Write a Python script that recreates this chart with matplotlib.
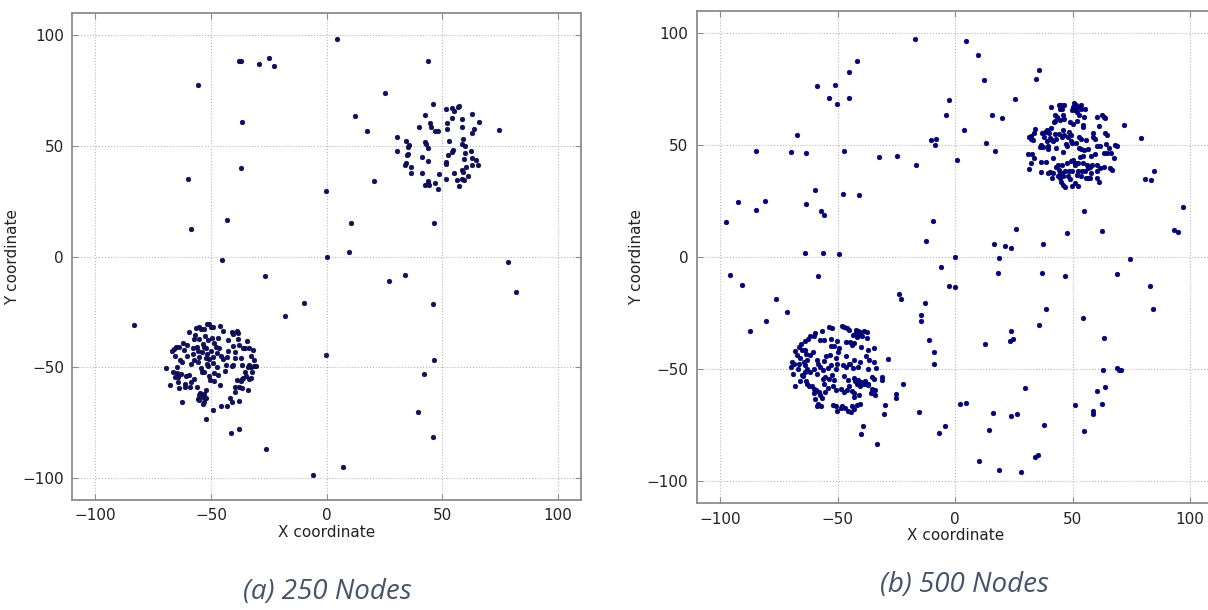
import numpy as np
import matplotlib
matplotlib.use("Agg")
import matplotlib.pyplot as plt

# ---- (a) 250 nodes : scattered nodes + two clusters (x, y) ----
a_scatter = [
    (4.3, 98.6), (-55.6, 77.8), (-38.1, 88.3), (-37.2, 88.3), (-29.2, 87.1), (-25.1, 89.8),
    (-22.7, 86.0), (-36.7, 61.0), (-37.2, 40.0), (-59.9, 35.0), (-0.2, 29.6), (-43.3, 16.5),
    (-58.9, 12.6), (0.0, 0.0), (-45.2, -1.5), (43.6, 88.3), (25.4, 73.9), (12.3, 63.7),
    (17.3, 56.8), (74.7, 57.1), (20.3, 34.2), (10.6, 15.0), (46.4, 15.2), (9.5, 2.0),
    (-26.7, -8.6), (-9.9, -20.9), (-18.2, -26.9), (-83.5, -31.1), (-0.1, -44.6), (-41.4, -79.7),
    (-37.9, -78.1), (-26.4, -86.9), (-5.8, -98.5), (-52.1, -73.6), (-49.0, -69.2), (-69.5, -50.5),
    (26.8, -11.0), (33.8, -8.1), (45.9, -21.6), (78.3, -2.6), (81.8, -16.2), (46.3, -46.7),
    (42.1, -53.2), (39.5, -70.1), (45.9, -81.4), (7.1, -95.3),
]
a_cluster_ne = [
    (45.9, 69.2), (51.8, 66.8), (54.4, 67.1), (55.0, 65.9), (56.6, 67.6), (57.1, 67.9),
    (42.7, 64.1), (62.9, 64.5), (54.4, 62.6), (58.3, 62.0), (65.8, 60.9), (44.7, 60.6),
    (51.9, 60.6), (39.8, 58.8), (45.3, 58.8), (58.6, 58.8), (52.2, 57.9), (63.5, 57.9),
    (46.9, 56.7), (48.3, 56.7), (62.9, 56.0), (30.6, 54.0), (59.1, 53.4), (34.3, 52.1),
    (52.8, 52.1), (42.6, 51.8), (35.8, 50.6), (35.1, 49.5), (43.0, 50.7), (43.6, 49.2),
    (58.3, 51.0), (59.9, 50.1), (54.8, 48.0), (54.2, 47.1), (30.3, 47.9), (62.2, 47.7),
    (35.3, 46.4), (34.8, 45.8), (52.4, 46.1), (59.6, 46.7), (41.3, 45.0), (62.8, 44.7),
    (64.6, 43.8), (44.0, 43.4), (59.4, 44.1), (51.6, 42.8), (51.4, 42.0), (34.2, 42.5),
    (33.8, 41.3), (36.3, 40.5), (60.3, 40.5), (62.8, 41.3), (65.5, 41.3), (58.6, 39.0),
    (59.1, 38.4), (41.4, 37.8), (36.5, 37.8), (48.5, 37.4), (55.1, 38.0), (61.3, 36.5),
    (51.8, 35.0), (58.6, 35.1), (59.4, 34.5), (56.4, 34.7), (44.0, 34.4), (43.6, 32.9),
    (42.7, 32.6), (44.4, 32.6), (46.9, 33.2), (48.0, 30.5), (57.0, 32.0),
]
a_cluster_sw = [
    (-51.8, -30.5), (-50.9, -30.6), (-49.9, -31.8), (-49.0, -32.0), (-46.3, -31.2), (-45.0, -33.6),
    (-56.5, -32.1), (-55.4, -32.0), (-54.4, -32.7), (-53.1, -32.7), (-59.4, -34.1), (-38.8, -33.6),
    (-40.8, -33.9), (-40.4, -34.8), (-38.2, -34.7),
    (-57.1, -35.4), (-57.4, -37.4), (-55.3, -37.2), (-52.8, -35.7), (-49.6, -36.6), (-51.2, -37.5),
    (-46.9, -36.9), (-42.7, -37.5), (-38.4, -37.2), (-34.6, -38.3), (-62.0, -39.0), (-60.6, -39.9),
    (-53.7, -39.5), (-48.8, -39.0), (-47.7, -40.8), (-40.4, -40.2), (-37.9, -39.8), (-35.2, -41.4),
    (-36.2, -41.1),
    (-65.2, -40.8), (-66.1, -41.8), (-66.9, -42.8), (-63.8, -41.0), (-58.0, -41.4), (-56.3, -40.8),
    (-55.5, -42.5), (-53.1, -40.8), (-52.1, -41.3), (-50.1, -42.5), (-46.6, -41.4), (-42.7, -42.5),
    (-39.5, -43.2), (-32.0, -42.2), (-33.6, -41.4), (-61.6, -42.2), (-54.1, -43.2),
    (-65.6, -44.8), (-60.5, -44.8), (-57.7, -43.9), (-55.1, -45.2), (-51.9, -44.0), (-50.8, -46.3),
    (-49.0, -45.4), (-45.9, -44.8), (-45.0, -46.3), (-43.3, -45.4), (-39.7, -45.8), (-37.2, -46.0),
    (-32.9, -45.1), (-31.4, -46.6), (-63.5, -46.6), (-57.3, -46.6), (-52.4, -46.0), (-47.6, -43.6),
    (-62.5, -47.6), (-55.5, -47.8), (-49.0, -48.1), (-43.7, -49.1), (-40.5, -48.8), (-36.6, -48.8),
    (-33.5, -48.8), (-32.9, -49.9), (-31.4, -49.6), (-30.6, -49.4), (-64.6, -49.9), (-54.2, -50.3),
    (-51.3, -49.6), (-47.5, -50.0), (-33.9, -49.7), (-58.6, -48.7), (-40.8, -49.6), (-51.9, -48.5),
    (-66.5, -52.0), (-64.9, -52.6), (-62.8, -53.0), (-54.1, -52.0), (-53.1, -52.3), (-48.6, -52.6),
    (-43.9, -51.8), (-35.3, -52.1), (-32.4, -52.3), (-35.1, -54.1), (-64.5, -54.5), (-61.0, -53.8),
    (-59.6, -53.5), (-57.4, -55.4), (-50.8, -54.1), (-47.2, -53.5), (-36.2, -54.7), (-65.5, -54.5),
    (-67.8, -58.0), (-64.2, -56.8), (-61.2, -57.4), (-58.7, -56.8), (-50.4, -55.9), (-48.8, -56.0),
    (-46.3, -57.8), (-38.9, -55.6), (-36.8, -55.1), (-37.1, -56.2), (-33.5, -55.1), (-32.9, -54.8),
    (-63.9, -59.3), (-61.2, -59.0), (-59.1, -59.0), (-56.3, -58.9), (-52.2, -60.4), (-39.5, -58.7),
    (-37.9, -59.0), (-36.6, -59.5), (-33.9, -60.1),
    (-54.7, -61.6), (-55.3, -62.5), (-55.8, -64.3), (-55.1, -64.9), (-53.7, -63.5), (-53.1, -61.9),
    (-52.2, -64.1), (-53.1, -65.8), (-53.6, -66.4), (-62.4, -65.5), (-45.6, -67.3), (-43.3, -67.6),
    (-42.0, -63.7), (-41.1, -65.9), (-39.5, -61.3), (-37.8, -65.2),
]

# ---- (b) 500 nodes ----
b_scatter = [
    (-17.0, 97.6), (-41.7, 87.5), (-45.1, 82.8), (-58.9, 76.5), (-51.1, 77.0), (-53.5, 71.1),
    (-45.1, 71.1), (-50.1, 68.6), (-2.8, 70.1), (-4.1, 63.4), (-67.4, 54.5), (-84.6, 47.5),
    (-70.0, 47.0), (-63.6, 46.6), (-47.4, 47.5), (-32.2, 44.8), (-24.7, 45.3), (-16.7, 41.1),
    (-10.3, 52.3), (-8.3, 52.7), (-8.5, 50.0), (0.8, 43.5), (-92.6, 24.7), (-97.4, 15.6),
    (-84.6, 21.1), (-80.9, 25.3), (-59.7, 30.1), (-63.3, 23.8), (-57.0, 20.7), (-55.9, 18.9),
    (-47.8, 28.3), (-40.9, 28.0), (-63.9, 2.0), (-56.3, 1.7), (-49.5, 1.2), (-9.6, 16.1),
    (-12.3, 7.2), (0.1, 0.0),
    (4.5, 96.7), (9.6, 90.2), (12.2, 79.3), (35.5, 83.8), (34.6, 79.8), (25.4, 70.6),
    (15.6, 63.6), (20.0, 62.1), (3.8, 57.0), (13.3, 51.2), (16.9, 47.6), (72.0, 59.2),
    (79.2, 53.4), (84.8, 38.4), (80.8, 34.8), (83.3, 34.4), (54.8, 20.7), (97.1, 22.5),
    (25.8, 12.8), (47.4, 10.6), (62.6, 11.5), (93.3, 12.2), (95.0, 11.2), (16.4, 6.1),
    (21.4, 4.9), (23.8, 4.0), (37.2, 5.8), (18.7, -0.4), (74.3, -0.7),
    (-95.7, -7.9), (-90.9, -12.4), (-76.2, -18.5), (-71.5, -24.3), (-80.6, -28.4), (-87.3, -32.9),
    (-58.5, -8.3), (-5.9, -4.5), (-2.5, -12.7), (0.0, -13.3), (-23.8, -16.4), (-23.2, -18.8),
    (-12.7, -20.5), (-14.4, -25.8), (-14.4, -28.7), (-11.2, -37.2), (-9.2, -42.4), (-9.2, -47.9),
    (-28.4, -45.5), (-22.2, -56.6), (-25.1, -61.2), (-25.0, -63.1), (-29.8, -66.1), (-30.2, -70.3),
    (-15.6, -69.1), (2.0, -65.5), (-4.5, -75.5), (-7.0, -78.7), (-39.3, -75.3), (-39.9, -79.0),
    (-33.2, -83.6), (-31.2, -53.6), (-31.2, -54.8), (-34.3, -61.8),
    (18.1, -7.2), (36.9, -7.2), (46.8, -8.6), (68.9, -7.5), (83.1, -12.8), (84.2, -23.2),
    (38.5, -23.2), (54.5, -27.0), (35.5, -30.2), (23.7, -33.2), (23.5, -37.4), (24.8, -36.6),
    (12.6, -38.8), (63.5, -36.0), (62.9, -50.2), (68.9, -49.4), (69.7, -50.6), (70.7, -50.6),
    (29.9, -58.6), (63.7, -58.2), (60.2, -59.8), (4.5, -65.3), (51.2, -65.9), (62.3, -65.6),
    (16.2, -69.5), (23.8, -71.0), (26.2, -70.1), (58.8, -68.7), (58.8, -70.3), (14.2, -77.2),
    (37.6, -75.0), (54.9, -77.7), (10.3, -90.9), (18.7, -95.1), (27.9, -95.8), (34.1, -89.3),
    (35.1, -88.6),
]
b_cluster_ne = [
    (50.5, 69.1), (51.5, 68.2), (53.5, 68.2), (50.2, 67.0), (52.2, 67.0), (44.0, 67.9),
    (45.1, 68.2), (46.3, 68.2), (40.9, 67.3), (44.6, 66.4), (45.4, 66.4), (49.8, 65.7),
    (51.2, 65.8), (52.0, 64.8), (53.6, 66.3), (55.2, 66.0), (52.9, 63.4), (54.8, 62.7),
    (42.4, 63.4), (43.3, 62.5), (46.0, 63.4), (42.6, 60.9), (41.9, 60.2), (44.7, 61.1),
    (46.5, 61.8), (48.7, 60.5), (51.7, 60.9), (54.4, 59.0), (54.6, 58.2), (60.2, 62.8),
    (62.3, 63.7), (63.3, 62.8), (63.7, 62.1), (61.2, 58.7), (50.1, 59.4),
    (33.8, 57.5), (32.1, 54.2), (31.3, 53.6), (33.6, 55.7), (37.0, 55.4), (38.3, 56.0),
    (39.2, 56.9), (40.9, 57.6), (40.1, 55.4), (42.3, 55.1), (44.0, 55.1), (45.7, 56.9),
    (46.5, 54.8), (48.5, 55.8), (49.2, 54.5), (48.0, 53.9), (45.5, 53.6), (49.1, 51.7),
    (43.0, 53.0), (40.4, 53.3), (41.0, 52.4), (41.7, 51.7), (37.9, 53.6), (39.0, 52.1),
    (36.6, 50.0), (36.0, 49.4), (37.3, 49.4), (33.0, 52.3), (32.3, 52.7), (52.9, 53.6),
    (53.4, 52.7), (55.6, 52.4), (58.6, 55.7), (58.8, 53.8), (59.6, 52.7), (63.6, 55.7),
    (64.4, 54.8), (60.2, 49.7), (61.5, 49.7), (64.3, 50.6), (65.3, 48.9), (67.8, 50.0),
    (68.8, 49.7), (66.1, 46.5), (64.6, 46.5), (63.3, 46.5), (67.6, 44.1), (59.5, 46.2),
    (57.9, 45.3), (53.6, 48.3), (52.5, 48.9), (54.8, 47.7), (56.5, 48.4), (51.4, 51.2),
    (49.9, 50.9), (47.1, 50.6), (47.7, 49.9), (39.6, 49.7), (42.7, 48.6), (46.0, 46.8),
    (39.4, 48.3),
    (31.2, 45.9), (32.6, 46.3), (33.5, 44.1), (32.1, 42.3), (31.6, 39.5), (36.7, 42.5),
    (38.6, 42.5), (41.6, 44.2), (43.6, 41.3), (43.0, 40.5), (44.3, 39.0), (45.5, 41.4),
    (47.4, 42.3), (49.4, 43.2), (50.8, 42.3), (52.4, 42.3), (54.4, 42.0), (56.2, 41.1),
    (56.6, 39.8), (57.5, 40.5), (58.2, 41.4), (60.2, 41.1), (61.5, 39.8), (63.3, 40.2),
    (65.9, 39.9), (66.8, 39.0), (60.2, 38.7), (57.9, 37.8), (55.3, 38.4), (53.8, 38.6),
    (52.1, 38.6), (49.7, 38.7), (48.4, 38.7), (46.7, 38.4), (45.5, 37.8), (44.7, 37.5),
    (40.3, 38.1), (39.6, 37.7), (41.1, 35.5), (43.8, 36.4), (44.4, 35.3), (45.7, 36.1),
    (48.2, 36.4), (51.9, 36.8), (53.6, 36.4), (55.5, 35.6), (56.5, 35.3), (57.2, 35.2),
    (60.2, 35.3), (61.3, 33.8), (49.7, 32.0), (50.9, 33.1), (52.4, 31.7), (46.8, 31.3),
    (46.0, 32.3), (45.1, 33.4), (49.0, 34.9), (36.5, 38.1), (41.7, 37.7), (50.9, 41.3),
    (53.1, 44.7), (54.6, 45.0), (50.1, 43.5),
]
b_cluster_sw = [
    (-53.5, -31.2), (-52.4, -31.8), (-48.3, -30.8), (-47.3, -31.2), (-46.1, -31.8), (-45.3, -32.4),
    (-42.0, -32.4), (-41.3, -32.9), (-40.6, -33.5), (-42.5, -34.2), (-43.3, -34.8), (-41.7, -35.7),
    (-40.6, -35.0), (-38.8, -32.9), (-37.6, -33.6), (-37.5, -36.3), (-39.6, -35.3), (-56.7, -32.9),
    (-59.6, -33.9), (-60.2, -35.1), (-61.8, -35.3), (-64.0, -37.3), (-62.8, -36.6), (-57.5, -36.9),
    (-55.7, -36.9), (-52.7, -36.6), (-50.3, -37.6), (-46.6, -37.8), (-44.6, -37.8), (-43.2, -38.4),
    (-40.0, -40.2), (-37.2, -41.7), (-34.4, -40.8), (-43.7, -39.1), (-51.4, -39.6), (-49.3, -40.8),
    (-52.8, -39.9),
    (-65.5, -39.0), (-66.5, -40.3), (-65.0, -41.4), (-63.9, -41.4), (-68.0, -41.8), (-67.3, -43.7),
    (-63.5, -43.4), (-61.6, -43.6), (-60.3, -42.6), (-63.0, -45.8), (-65.9, -45.2), (-69.3, -46.7),
    (-68.6, -47.9), (-69.7, -49.2), (-66.6, -47.8), (-64.5, -46.7), (-63.9, -48.2), (-58.8, -46.0),
    (-58.4, -47.9), (-57.5, -49.2), (-55.8, -46.6), (-54.8, -44.3), (-53.4, -43.7), (-50.7, -45.1),
    (-49.7, -42.3), (-46.6, -44.3), (-47.7, -48.2), (-45.2, -47.6), (-42.9, -45.8), (-40.6, -46.7),
    (-37.9, -44.3), (-36.6, -45.8), (-34.5, -46.7), (-33.5, -49.4), (-36.9, -49.8), (-41.5, -49.2),
    (-43.6, -49.5), (-46.3, -49.1), (-44.6, -47.6), (-52.8, -48.1), (-54.2, -49.5), (-50.5, -50.1),
    (-61.6, -51.2), (-63.0, -50.0), (-63.9, -51.2), (-59.9, -50.0),
    (-68.9, -52.1), (-65.3, -52.5), (-64.6, -53.3), (-66.0, -55.5), (-68.2, -57.4), (-63.5, -55.5),
    (-63.0, -56.7), (-62.2, -57.7), (-58.6, -52.4), (-56.4, -54.5), (-55.2, -53.7), (-53.8, -54.5),
    (-52.3, -52.5), (-51.5, -54.8), (-47.3, -53.3), (-43.2, -53.9), (-42.6, -55.2), (-41.5, -54.8),
    (-40.0, -55.6), (-41.9, -56.5), (-40.7, -57.7), (-38.2, -55.3), (-37.1, -56.7), (-35.4, -53.7),
    (-34.4, -54.3), (-35.2, -58.9), (-34.1, -59.2), (-35.8, -60.7), (-37.2, -57.3), (-39.0, -56.8),
    (-45.4, -54.8), (-45.0, -57.7), (-48.4, -58.9), (-47.3, -60.1), (-46.0, -59.5), (-44.0, -59.7),
    (-43.2, -62.5), (-42.9, -60.7), (-41.0, -61.6), (-40.5, -65.5), (-41.6, -66.1), (-60.8, -57.7),
    (-59.9, -58.9), (-59.1, -59.2), (-59.9, -60.7), (-58.1, -60.4), (-57.6, -61.6), (-55.4, -60.1),
    (-54.2, -58.5), (-52.1, -57.7), (-50.5, -59.5), (-56.8, -63.1), (-59.5, -63.5), (-58.2, -65.8),
    (-58.8, -66.4), (-57.1, -66.4), (-52.0, -66.1), (-50.8, -66.7), (-50.3, -68.7), (-48.7, -67.5),
    (-48.0, -66.7), (-45.6, -68.7), (-44.4, -69.3), (-42.9, -67.7), (-46.7, -67.5), (-44.0, -66.7),
    (-55.8, -56.5), (-67.0, -50.0), (-56.4, -50.6), (-50.3, -47.8),
]

panel_captions = ["(a) 250 Nodes", "(b) 500 Nodes"]
ticks = [-100, -50, 0, 50, 100]

fig = plt.figure(figsize=(12.08, 6.10), dpi=100)
ax_a = fig.add_axes([0.0599, 0.1803, 0.4211, 0.7979])
# right panel runs slightly off the right edge of the picture, as in the source
ax_b = fig.add_axes([0.5767, 0.1749, 0.4280, 0.8070])

panels = [
    (ax_a, [a_scatter, a_cluster_ne, a_cluster_sw], "#101060"),
    (ax_b, [b_scatter, b_cluster_ne, b_cluster_sw], "#00008B"),
]
for ax, groups, col in panels:
    pts = np.array([p for g in groups for p in g])
    ax.scatter(pts[:, 0], pts[:, 1], s=12, color=col, edgecolors="#000030",
               linewidths=0.3, zorder=3)
    ax.set_xlim(-110, 110)
    ax.set_ylim(-110, 110)
    ax.set_xticks(ticks)
    ax.set_yticks(ticks)
    ax.grid(True, color="#b8b8b8", linestyle=":", linewidth=0.8)
    ax.set_axisbelow(True)
    for sp in ax.spines.values():
        sp.set_color("#8c8c8c")
        sp.set_linewidth(1.3)
    ax.tick_params(direction="in", length=4, color="#8c8c8c", labelsize=11,
                   labelcolor="#222222", top=True, right=True, pad=6)
    ax.set_xlabel("X coordinate", fontsize=11, color="#222222", labelpad=1)
    ax.set_ylabel("Y coordinate", fontsize=11, color="#222222", labelpad=2)

cap_style = dict(fontsize=20, style="italic", color="#44546A",
                 family="Open Sans", ha="center", va="center")
fig.text(327 / 1208, 1 - 592 / 610, panel_captions[0], **cap_style)
fig.text(964 / 1208, 1 - 585 / 610, panel_captions[1], **cap_style)

fig.savefig("out.png", dpi=100)
